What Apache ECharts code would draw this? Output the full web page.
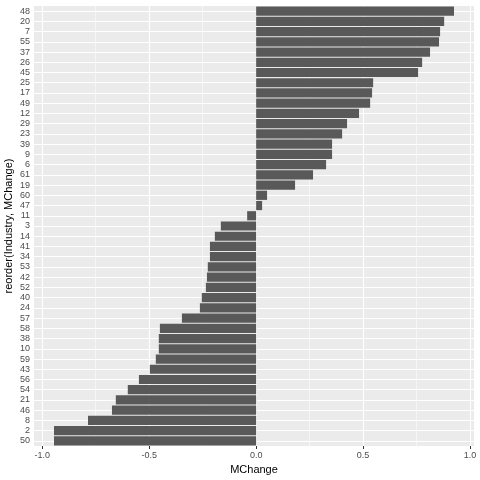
<!DOCTYPE html>
<html>
<head>
<meta charset="utf-8">
<script src="https://cdn.jsdelivr.net/npm/echarts@6/dist/echarts.min.js"></script>
<style>html,body{margin:0;padding:0;background:#fff}#c{width:480px;height:480px}</style>
</head>
<body>
<div id="c"></div>
<script>
const industries = ['48','20','7','55','37','26','45','25','17','49','12','29','23','39','9','6','61','19','60','47','11','3','14','41','34','53','42','52','40','24','57','58','38','10','59','43','56','54','21','46','8','2','50'];
const mchange = [0.925,0.879,0.860,0.855,0.813,0.776,0.757,0.547,0.542,0.533,0.481,0.425,0.402,0.355,0.355,0.327,0.266,0.182,0.051,0.028,-0.042,-0.165,-0.193,-0.216,-0.216,-0.226,-0.230,-0.235,-0.254,-0.263,-0.347,-0.450,-0.455,-0.455,-0.469,-0.497,-0.548,-0.600,-0.656,-0.674,-0.786,-0.945,-0.945];
const xTicks = [-1, -0.5, 0, 0.5, 1];
const xMinor = [-0.75, -0.25, 0.25, 0.75];

const font = 'Liberation Sans, Arial, sans-serif';
const chart = echarts.init(document.getElementById('c'), null, {renderer: 'canvas'});
const gridLines = [];
xTicks.forEach(v => gridLines.push({xAxis: v, lineStyle: {width: 1.1}}));
xMinor.forEach(v => gridLines.push({xAxis: v, lineStyle: {width: 0.55}}));
industries.forEach(c => gridLines.push({yAxis: c, lineStyle: {width: 1.1}}));

chart.setOption({
  animation: false,
  backgroundColor: '#ffffff',
  grid: {left: 34, right: 6, top: 6, bottom: 34, show: true, backgroundColor: '#EBEBEB', borderWidth: 0,
    containLabel: false, outerBoundsMode: 'none'},
  xAxis: {
    type: 'value', min: -1.0385, max: 1.0185,
    name: 'MChange', nameLocation: 'middle', nameGap: 18, nameMoveOverlap: false,
    nameTextStyle: {color: '#000', fontSize: 11, fontFamily: font},
    axisLine: {show: false},
    axisTick: {show: true, length: 3, customValues: xTicks, lineStyle: {color: '#333333', width: 1}},
    axisLabel: {customValues: xTicks, color: '#4D4D4D', fontSize: 9, fontFamily: font, margin: 5,
      formatter: v => Number(v).toFixed(1)},
    splitLine: {show: false}
  },
  yAxis: {
    type: 'category', data: industries, inverse: true,
    name: 'reorder(Industry, MChange)', nameLocation: 'middle', nameGap: 20, nameRotate: 90, nameMoveOverlap: false,
    nameTextStyle: {color: '#000', fontSize: 11, fontFamily: font},
    axisLine: {show: false},
    axisTick: {show: true, alignWithLabel: true, length: 3, lineStyle: {color: '#333333', width: 1}},
    axisLabel: {color: '#4D4D4D', fontSize: 9, fontFamily: font, margin: 4, interval: 0},
    splitLine: {show: false}
  },
  series: [
    {
      type: 'line', data: [], z: 1, silent: true,
      markLine: {silent: true, z: 1, symbol: 'none', label: {show: false}, animation: false,
        lineStyle: {color: '#ffffff', type: 'solid'}, data: gridLines}
    },
    {
      type: 'bar', data: mchange, barWidth: '90%', z: 10,
      itemStyle: {color: '#595959'}
    }
  ]
});
</script>
</body>
</html>
